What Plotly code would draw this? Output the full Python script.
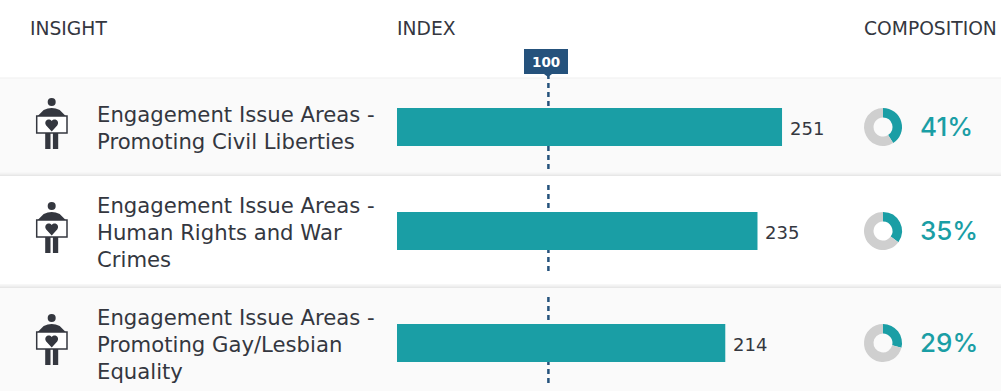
import plotly.graph_objects as go

W, H = 1004, 391
FONT = "DejaVu Sans"
DARK = "#34373f"
TEAL = "#1a9ea5"
NAVY = "#25527c"
GREY = "#cfcfcf"

# Data
insights = [
    ["Engagement Issue Areas -", "Promoting Civil Liberties"],
    ["Engagement Issue Areas -", "Human Rights and War", "Crimes"],
    ["Engagement Issue Areas -", "Promoting Gay/Lesbian", "Equality"],
]
index_values = [251, 235, 214]
composition = [41, 35, 29]
reference_index = 100
headers = ["INSIGHT", "INDEX", "COMPOSITION"]

# Layout (pixels)
row_centers = [127, 231, 343]
row_bands = [(78, 176, "#fafafa"), (176, 288, "#ffffff"), (288, 391, "#fafafa")]
header_x = [28, 395, 862]
BAR_H = 38
LINE_H = 27
X0, PX_PER_UNIT = 397, 1.534

fig = go.Figure()
fig.add_trace(go.Bar(
    x=index_values, y=row_centers, orientation="h", width=BAR_H,
    marker=dict(color=TEAL, line=dict(width=0)), hoverinfo="skip", showlegend=False,
))
fig.add_trace(go.Scatter(x=[0], y=[0], xaxis="x2", yaxis="y", mode="markers",
                         marker=dict(opacity=0), showlegend=False, hoverinfo="skip"))

shapes, annos = [], []


def rect(x0, y0, x1, y1, fill, layer="below", line=None):
    shapes.append(dict(type="rect", xref="x2", yref="y", x0=x0, x1=x1, y0=y0, y1=y1,
                       fillcolor=fill, line=line or dict(width=0), layer=layer))


for y0, y1, c in row_bands:
    rect(0, y0, 1001, y1, c)
shapes.append(dict(type="line", xref="x2", yref="y", x0=0, x1=1001, y0=78, y1=78,
                   line=dict(color="#efefef", width=1), layer="below"))
# soft row-edge shadows
for yb in (176, 288):
    for i, c in enumerate(["#f7f7f7", "#f3f3f3", "#eeeeee", "#e7e7e7"]):
        rect(0, yb - 4 + i, 1001, yb - 3 + i, c)

for x, t in zip(header_x, headers):
    annos.append(dict(xref="x2", yref="y", x=x, y=28, text=t, showarrow=False, xanchor="left",
                      yanchor="middle", font=dict(family=FONT, size=18.7, color=DARK)))


def icon(cy):
    cx = 51.7
    d = cy - 127
    ic = DARK
    shapes.append(dict(type="circle", xref="x2", yref="y", x0=cx - 4, x1=cx + 4,
                       y0=98 + d, y1=106 + d, fillcolor=ic, line=dict(width=0), layer="below"))
    shapes.append(dict(type="path", xref="x2", yref="y", layer="below", fillcolor=ic, line=dict(width=0),
                       path=f"M {cx-14},{116+d} L {cx-8},{110+d} Q {cx},{106+d} {cx+8},{110+d} L {cx+14},{116+d} Z"))
    rect(cx - 6.5, 132 + d, cx - 1.2, 149 + d, ic)
    rect(cx + 1.2, 132 + d, cx + 6.5, 149 + d, ic)
    rect(36.7, 116 + d, 67, 133 + d, "#ffffff", line=dict(color=ic, width=1.5))
    hy = 124.5 + d
    shapes.append(dict(type="path", xref="x2", yref="y", layer="below", fillcolor=ic, line=dict(width=0),
                       path=f"M {cx},{hy+7} L {cx-5.5},{hy+1} C {cx-8.5},{hy-3.5} {cx-3},{hy-7} {cx},{hy-3.5} "
                            f"C {cx+3},{hy-7} {cx+8.5},{hy-3.5} {cx+5.5},{hy+1} Z"))


DASH = dict(color=NAVY, width=2.5, dash="5px,4px")


def refline(y0, y1, layer="below"):
    shapes.append(dict(type="line", xref="x", yref="y", xsizemode="pixel", xanchor=reference_index,
                       x0=-2, x1=-2, y0=y0, y1=y1, line=DASH, layer=layer))


for i, cy in enumerate(row_centers):
    icon(cy)
    n = len(insights[i])
    for j, line in enumerate(insights[i]):
        annos.append(dict(xref="x2", yref="y", x=95, y=cy + 1 + (j - (n - 1) / 2) * LINE_H, text=line,
                          showarrow=False, xanchor="left", yanchor="middle",
                          font=dict(family=FONT, size=21.2, color=DARK)))
    annos.append(dict(xref="x", yref="y", x=index_values[i], y=cy + 1, xshift=6, text=str(index_values[i]),
                      showarrow=False, xanchor="left", yanchor="middle",
                      font=dict(family=FONT, size=18, color=DARK)))
    annos.append(dict(xref="x2", yref="y", x=918, y=cy - 1, text=f"{composition[i]}%", showarrow=False,
                      xanchor="left", yanchor="middle",
                      font=dict(family="Inter", size=26, color=TEAL, weight=500)))
    fig.add_trace(go.Pie(
        values=[composition[i], 100 - composition[i]], hole=0.5, sort=False, direction="clockwise",
        rotation=0, textinfo="none", hoverinfo="skip", showlegend=False,
        marker=dict(colors=[TEAL, GREY], line=dict(width=0)),
        domain=dict(x=[864 / W, 902 / W], y=[1 - (cy + 19) / H, 1 - (cy - 19) / H]),
    ))

refline(74, 170)
refline(185, 271)
refline(297, 383)

# 100 flag
rect(524, 49, 568, 74, NAVY, layer="below")
shapes.append(dict(type="path", xref="x2", yref="y", layer="below", fillcolor=NAVY, line=dict(width=0),
                   path="M 544,74 L 552,74 L 548,77 Z"))
annos.append(dict(xref="x", yref="y", x=reference_index, xshift=-4, y=61.5, text=f"<b>{reference_index}</b>",
                  showarrow=False, xanchor="center", yanchor="middle",
                  font=dict(family=FONT, size=13.5, color="#ffffff")))

fig.update_layout(
    width=W, height=H, margin=dict(l=0, r=0, t=0, b=0, pad=0), autosize=False,
    paper_bgcolor="#ffffff", plot_bgcolor="#ffffff", barmode="overlay",
    xaxis=dict(domain=[0, 1], range=[-X0 / PX_PER_UNIT, (W - X0) / PX_PER_UNIT], visible=False, fixedrange=True),
    xaxis2=dict(range=[0, W], visible=False, overlaying="x", anchor="y", fixedrange=True),
    yaxis=dict(domain=[0, 1], range=[H, 0], visible=False, fixedrange=True),
    shapes=shapes, annotations=annos,
)
fig.write_html("out.html", config=dict(displayModeBar=False),
               post_script="document.body.style.margin='0';document.documentElement.style.overflow='hidden';")
